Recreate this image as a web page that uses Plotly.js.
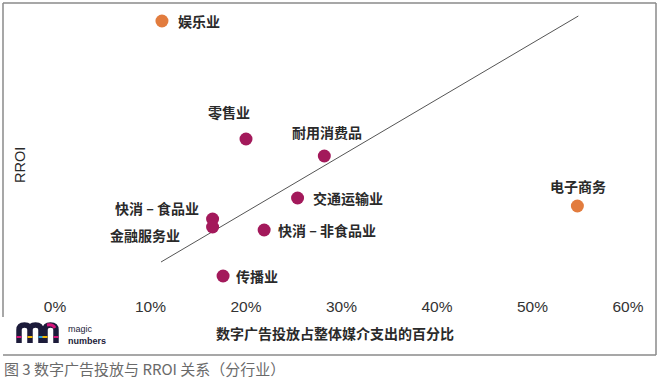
<!DOCTYPE html>
<html>
<head>
<meta charset="utf-8">
<script src="https://cdn.plot.ly/plotly-3.0.1.min.js"></script>
<style>html,body{margin:0;padding:0;background:#fff;}#chart{width:660px;height:380px;}</style>
</head>
<body>
<div id="chart"></div>
<script>
// ---- data ----
const industries = ['娱乐业','零售业','耐用消费品','交通运输业','快消 – 食品业','金融服务业','快消 – 非食品业','传播业','电子商务'];
const digitalShare = [0.112, 0.200, 0.282, 0.254, 0.165, 0.165, 0.219, 0.176, 0.547];
const rroi = [2.79, 1.61, 1.44, 1.02, 0.81, 0.73, 0.70, 0.24, 0.94];
const group = ['outlier','core','core','core','core','core','core','core','outlier'];
const trendX = [0.111, 0.548];
const trendY = [0.38, 2.84];
const xTicks = [0, 0.1, 0.2, 0.3, 0.4, 0.5, 0.6];
const xTitle = '数字广告投放占整体媒介支出的百分比';
const yTitle = 'RROI';
const caption = '图 3 数字广告投放与 RROI 关系（分行业）';

// ---- styles ----
const W = 660, H = 380;
const px = v => v / W, py = v => 1 - v / H;
const colorOf = {core: '#A3195B', outlier: '#E27C3E'};
const FONT = 'Liberation Sans, Arial, Noto Sans CJK SC, sans-serif';
const CJK = 'Noto Sans CJK SC, sans-serif';
// label placement per industry: [xanchor, xshift, yshift]
const labelPos = {
  '娱乐业': ['left', 14, 0],
  '零售业': ['center', -17, 27],
  '耐用消费品': ['center', 3, 24],
  '交通运输业': ['left', 13, 0],
  '快消 – 食品业': ['right', -12, 11],
  '金融服务业': ['right', -31, -8],
  '快消 – 非食品业': ['left', 12, 0],
  '传播业': ['left', 11, 0],
  '电子商务': ['center', 1, 20]
};

const traces = [
  {x: trendX, y: trendY, mode: 'lines', type: 'scatter', hoverinfo: 'skip',
   line: {color: '#555', width: 1}, showlegend: false},
  {x: digitalShare, y: rroi, mode: 'markers', type: 'scatter', text: industries,
   marker: {size: 13, color: group.map(g => colorOf[g])}, showlegend: false, cliponaxis: false}
];

const annotations = industries.map((name, i) => {
  const p = labelPos[name];
  return {x: digitalShare[i], y: rroi[i], xref: 'x', yref: 'y', text: name, showarrow: false,
    xanchor: p[0], yanchor: 'middle', xshift: p[1], yshift: p[2],
    font: {family: CJK, size: 14, color: '#2a2a2a', weight: 'bold'}};
});
annotations.push(
  {xref: 'paper', yref: 'paper', x: px(335), y: py(333), text: xTitle, showarrow: false,
   xanchor: 'center', yanchor: 'middle', font: {family: CJK, size: 14, color: '#2a2a2a', weight: 'bold'}},
  {xref: 'paper', yref: 'paper', x: px(20), y: py(165), text: yTitle, showarrow: false, textangle: -90,
   xanchor: 'center', yanchor: 'middle', font: {family: FONT, size: 14.5, color: '#2a2a2a'}},
  {xref: 'paper', yref: 'paper', x: px(2), y: py(368), text: caption, showarrow: false,
   xanchor: 'left', yanchor: 'middle', font: {family: CJK, size: 15, color: '#6a6a6a'}},
  {xref: 'paper', yref: 'paper', x: px(66), y: py(329), text: 'magic', showarrow: false,
   xanchor: 'left', yanchor: 'middle', font: {family: FONT, size: 9, color: '#1c1b3a'}},
  {xref: 'paper', yref: 'paper', x: px(66), y: py(340.5), text: 'numbers', showarrow: false,
   xanchor: 'left', yanchor: 'middle', font: {family: FONT, size: 9, color: '#1c1b3a', weight: 'bold'}}
);

const toPaper = s => s.replace(/(-?[\d.]+),(-?[\d.]+)/g, (m, a, b) => px(+a).toFixed(5) + ',' + py(+b).toFixed(5));
const frame = {color: '#8a8a8a', width: 1.5};
const shapes = [
  {type: 'line', xref: 'paper', yref: 'paper', x0: px(3), x1: px(656), y0: py(3), y1: py(3), line: frame},
  {type: 'line', xref: 'paper', yref: 'paper', x0: px(656), x1: px(656), y0: py(3), y1: py(355), line: frame},
  {type: 'line', xref: 'paper', yref: 'paper', x0: px(3), x1: px(656), y0: py(355), y1: py(355), line: frame},
  {type: 'line', xref: 'paper', yref: 'paper', x0: px(3), x1: px(3), y0: py(3), y1: py(317), line: frame},
  // logo glyph
  {type: 'path', xref: 'paper', yref: 'paper', line: {color: '#1c1b3a', width: 5.5},
   path: toPaper('M19,343 L19,330 Q19,325 24.5,325 Q30,325 30,330 L30,343 M30,330 Q30,325 35.5,325 Q41,325 41,330 L41,343')},
  {type: 'path', xref: 'paper', yref: 'paper', line: {color: '#1c1b3a', width: 5.5},
   path: toPaper('M45,343 L45,330 Q45,325 50.5,325 Q56,325 56,330 L56,343')},
  {type: 'path', xref: 'paper', yref: 'paper', line: {color: '#d4157a', width: 3},
   path: toPaper('M47,325 Q53,324 55,328')},
  {type: 'rect', xref: 'paper', yref: 'paper', x0: px(16.5), x1: px(21.5), y0: py(336), y1: py(338), line: {width: 0}, fillcolor: '#d4157a'},
  {type: 'rect', xref: 'paper', yref: 'paper', x0: px(27.5), x1: px(32.5), y0: py(336), y1: py(338), line: {width: 0}, fillcolor: '#f2b705'},
  {type: 'rect', xref: 'paper', yref: 'paper', x0: px(38.5), x1: px(43.5), y0: py(336), y1: py(338), line: {width: 0}, fillcolor: '#2a9fd8'},
  {type: 'rect', xref: 'paper', yref: 'paper', x0: px(42.5), x1: px(47.5), y0: py(336), y1: py(338), line: {width: 0}, fillcolor: '#f2b705'},
  {type: 'rect', xref: 'paper', yref: 'paper', x0: px(53.5), x1: px(58.5), y0: py(336), y1: py(338), line: {width: 0}, fillcolor: '#d4157a'}
];

const layout = {
  width: W, height: H,
  margin: {l: 0, r: 0, t: 0, b: 0},
  paper_bgcolor: '#fff', plot_bgcolor: 'rgba(0,0,0,0)',
  xaxis: {domain: [0, 1], range: [-55/955, 605/955], tickvals: xTicks, tickformat: '.0%',
    showgrid: false, zeroline: false, showline: false, ticks: '',
    tickfont: {family: FONT, size: 15.5, color: '#333'}, fixedrange: true},
  yaxis: {domain: [py(295), 1], range: [0.05, 3.0], showgrid: false, zeroline: false,
    showline: false, showticklabels: false, ticks: '', fixedrange: true},
  annotations: annotations,
  shapes: shapes,
  showlegend: false,
  hovermode: 'closest'
};

Plotly.newPlot('chart', traces, layout, {displayModeBar: false, staticPlot: true});
</script>
</body>
</html>
